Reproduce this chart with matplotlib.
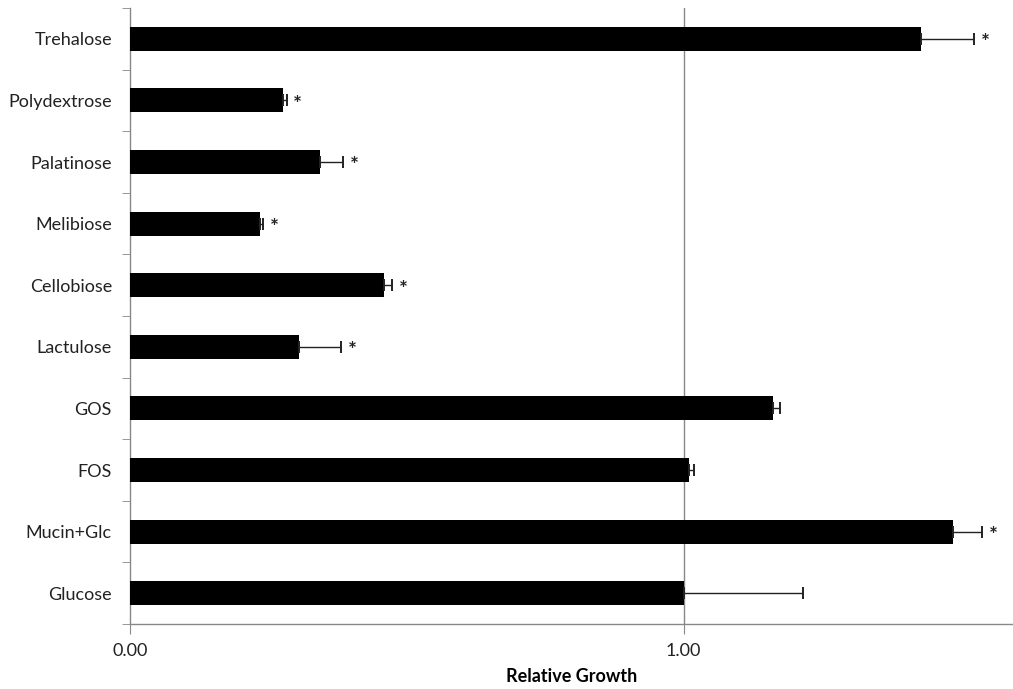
import matplotlib.pyplot as plt
import numpy as np

plt.rcParams['font.family'] = ['Lato', 'DejaVu Sans']

# Sugars, listed bottom to top
sugars = ["Glucose", "Mucin+Glc", "FOS", "GOS", "Lactulose",
          "Cellobiose", "Melibiose", "Palatinose", "Polydextrose", "Trehalose"]
growth = [1.00, 1.487, 1.009, 1.161, 0.305, 0.458, 0.235, 0.343, 0.276, 1.428]
growth_err = [0.215, 0.052, 0.009, 0.014, 0.076, 0.016, 0.005, 0.042, 0.007, 0.097]
significant = [False, True, False, False, True, True, True, True, True, True]
x_ticks = [0.0, 1.0]
x_tick_labels = ["0.00", "1.00"]

fig = plt.figure(figsize=(10.13, 6.89), dpi=100)
ax = fig.add_axes([0.1283, 0.0943, 0.8717, 0.8941])

y = np.arange(len(sugars))
lower = np.zeros(len(growth_err))
ax.barh(y, growth, height=0.39, color="black", zorder=3)
ax.errorbar(growth, y, xerr=[lower, growth_err], fmt="none", ecolor="#222222",
            elinewidth=1.0, capsize=4.3, capthick=1.4, zorder=4)

# Asterisks for significant differences
for yi, g, e, s in zip(y, growth, growth_err, significant):
    if s:
        ax.text(g + e + 0.012, yi - 0.07, "*", ha="left", va="center",
                fontsize=15, fontweight="bold", color="#222222")

ax.axvline(1.0, color="#888888", linewidth=1.0, zorder=1)

ax.set_xlim(0, 1.595)
ax.set_ylim(-0.5, len(sugars) - 0.5)
ax.set_yticks(y)
ax.set_yticklabels(sugars, fontsize=13, color="#222222")
ax.set_yticks(np.arange(-0.5, len(sugars)), minor=True)
ax.tick_params(axis="y", which="major", length=0, pad=13)
ax.tick_params(axis="y", which="minor", length=6, color="#888888", direction="out")
ax.set_xticks(x_ticks)
ax.set_xticklabels(x_tick_labels, fontsize=13, color="#222222")
ax.tick_params(axis="x", length=7, color="#888888", direction="out", pad=7)

for side in ["top", "right"]:
    ax.spines[side].set_visible(False)
for side in ["left", "bottom"]:
    ax.spines[side].set_color("#888888")
    ax.spines[side].set_linewidth(1.0)

ax.set_xlabel("Relative Growth", fontsize=13, fontweight="bold", labelpad=6)

fig.savefig("out.png", dpi=100)
